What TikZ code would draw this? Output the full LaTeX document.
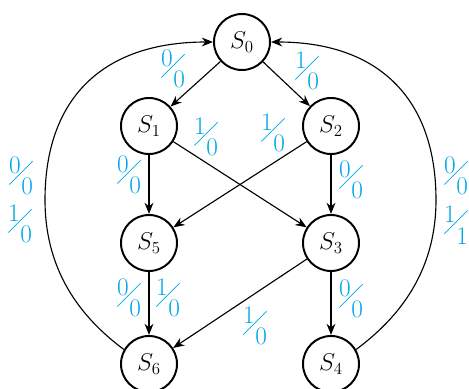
\documentclass[tikz,border=0pt]{standalone}
\usepackage{graphicx}
\usetikzlibrary{arrows.meta,positioning}
\definecolor{iocyan}{RGB}{0,168,230}
% input/output label: numerator up left, slash, denominator down right
\newcommand{\io}[2]{\rlap{\raisebox{0.85em}{#1}}\raisebox{0.4em}{\rotatebox{45}{\rule{1.3em}{0.5pt}}}\llap{#2}}

\begin{document}
\begin{tikzpicture}[
    x=0.025cm, y=-0.025cm,
    state/.style={circle, draw=black, line width=1.4pt, minimum size=1.4cm, inner sep=0pt, font=\LARGE},
    trans/.style={line width=0.8pt, -{Stealth[length=2.8mm,width=2.2mm,inset=0.9mm]}},
    io/.style={text=iocyan, inner sep=0pt, font=\fontsize{18}{21}\selectfont}
]
\useasboundingbox (0,0) rectangle (469,389);

% States
\node [state] (S0) at (242,42) {$S_0$};
\node [state] (S1) at (149,126) {$S_1$};
\node [state] (S2) at (331,126) {$S_2$};
\node [state] (S5) at (149,243) {$S_5$};
\node [state] (S3) at (331,243) {$S_3$};
\node [state] (S6) at (149,364) {$S_6$};
\node [state] (S4) at (331,364) {$S_4$};

% Turning points of the two outer arcs
\coordinate (lmid) at (45,200);
\coordinate (rmid) at (436,200);

% Transitions
\draw [trans] (S0) -- (S1);
\draw [trans] (S0) -- (S2);
\draw [trans] (S1) -- (S5);
\draw [trans] (S2) -- (S3);
\draw [trans] (S1) -- (S3);
\draw [trans] (S2) -- (S5);
\draw [trans] (S5) -- (S6);
\draw [trans] (S3) -- (S6);
\draw [trans] (S3) -- (S4);
\draw [trans] (S6.150) .. controls (87,322) and (45,277) .. (lmid)
    .. controls (45,97) and (104,42) .. (S0.west);
\draw [trans] (S4.30) .. controls (393,322) and (436,277) .. (rmid)
    .. controls (436,97) and (377,42) .. (S0.east);

% Labels
\node [io] (l01) at (173,69) {\io{0}{0}};
\node [io] (l02) at (307,71) {\io{1}{0}};
\node [io] (l13) at (206,137) {\io{1}{0}};
\node [io] (l25) at (273,133) {\io{1}{0}};
\node [io] (l15) at (129,175) {\io{0}{0}};
\node [io] (l23) at (351,180) {\io{0}{0}};
\node [io] (lL1) at (21,176) {\io{0}{0}};
\node [io] (lL2) at (20,224) {\io{1}{0}};
\node [io] (lR1) at (456,176) {\io{0}{0}};
\node [io] (lR2) at (456,225) {\io{1}{1}};
\node [io] (l56a) at (129,298) {\io{0}{0}};
\node [io] (l56b) at (168,298) {\io{1}{0}};
\node [io] (l36) at (255,326) {\io{1}{0}};
\node [io] (l34) at (351,299) {\io{0}{0}};

\end{tikzpicture}
\end{document}
